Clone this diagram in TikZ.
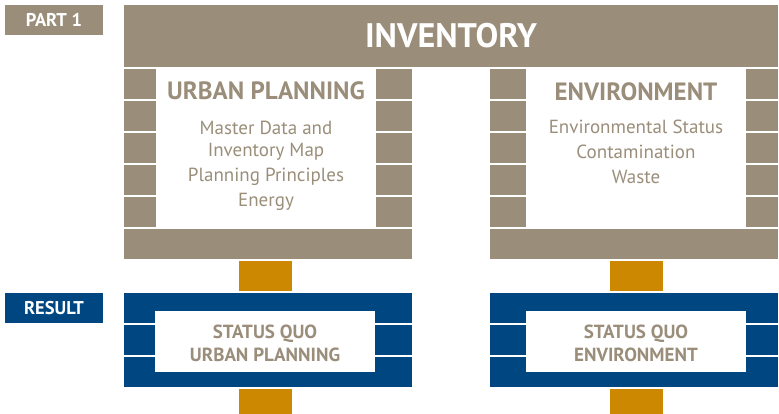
\documentclass[tikz,border=0pt]{standalone}
\usepackage{fontspec}
\setmainfont{PT Sans}
\usepackage{xcolor}
\usepackage{tikz}
\usetikzlibrary{positioning}

\definecolor{tan}{HTML}{9A8E7A}
\definecolor{navy}{HTML}{004680}
\definecolor{ochre}{HTML}{CC8800}

\begin{document}
\begin{tikzpicture}[
  x=1pt, y=-1pt,
  every node/.style={inner sep=0pt, outer sep=0pt, anchor=north west},
  tanblock/.style={fill=tan, text=white},
  blueblock/.style={fill=navy, text=white},
  linkblock/.style={fill=ochre, minimum width=53pt},
  brick/.style={tanblock, minimum height=30pt},
  tag/.style={minimum width=98pt, minimum height=30pt, font=\fontsize{18.5}{18.5}\selectfont\bfseries},
  title/.style={anchor=center, text=tan, font=\fontsize{25}{25}\selectfont\bfseries},
  body/.style={anchor=north, text=tan, align=center, font=\fontsize{19}{22}\selectfont},
  status/.style={anchor=center, text=tan, align=center, font=\fontsize{19}{23}\selectfont\bfseries}]

\useasboundingbox (0,0) rectangle (779,414);

% part 1 : inventory
\node[tanblock, tag] (part) at (5,5) {PART 1};
\node[tanblock, minimum width=654pt, minimum height=62pt,
  font=\fontsize{34}{34}\selectfont\bfseries] (inv) at (124,5) {INVENTORY};

\foreach \y in {69,101,133,165,197} {
  \node[brick, minimum width=32pt] (upl\y) at (124,\y) {};
  \node[brick, minimum width=36pt] (upr\y) at (376,\y) {};
  \node[brick, minimum width=36pt] (envl\y) at (490,\y) {};
  \node[brick, minimum width=32pt] (envr\y) at (746,\y) {};
}
\node[brick, minimum width=288pt] (upbase) at (124,229) {};
\node[brick, minimum width=288pt] (envbase) at (490,229) {};

\node[title] (uptitle) at (266,91) {URBAN PLANNING};
\node[body] (upbody) at (266,121) {Master Data and\\ Inventory Map\\[3pt]
  Planning Principles\\[3pt] Energy};

\node[title] (envtitle) at (636,92) {ENVIRONMENT};
\node[body] (envbody) at (636,120) {Environmental Status\\[3pt]
  Contamination\\[3pt] Waste};

% links
\node[linkblock, minimum height=30pt] (uplink) at (239,261) {};
\node[linkblock, minimum height=30pt] (envlink) at (610,261) {};

% result
\node[blueblock, tag] (result) at (5,293) {RESULT};
\foreach \y in {293,325,357} {
  \node[blueblock, minimum width=288pt, minimum height=30pt] (sql\y) at (124,\y) {};
  \node[blueblock, minimum width=288pt, minimum height=30pt] (sqr\y) at (490,\y) {};
}
\node[fill=white, minimum width=220pt, minimum height=61pt] (upframe) at (155,311) {};
\node[fill=white, minimum width=220pt, minimum height=61pt] (envframe) at (526,311) {};
\node[status] (upstatus) at ([yshift=-2pt]upframe.center) {STATUS QUO\\ URBAN PLANNING};
\node[status] (envstatus) at ([yshift=-2pt]envframe.center) {STATUS QUO\\ ENVIRONMENT};

\node[linkblock, minimum height=25pt] (upout) at (239,389) {};
\node[linkblock, minimum height=25pt] (envout) at (610,389) {};
\end{tikzpicture}
\end{document}
